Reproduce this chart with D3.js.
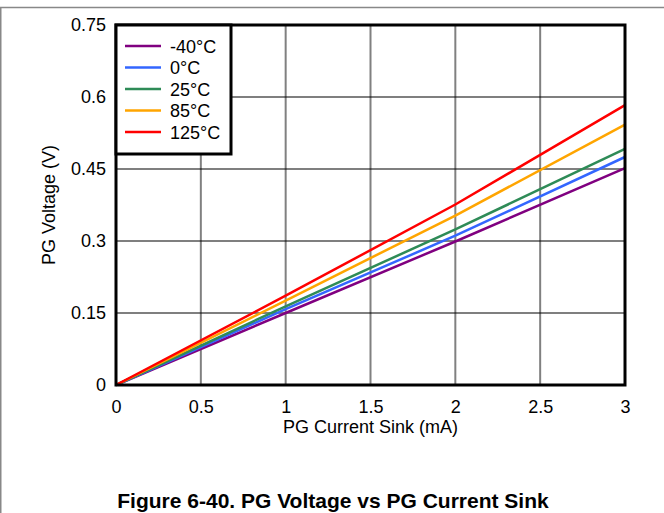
<!DOCTYPE html>
<html>
<head>
<meta charset="utf-8">
<title>PG Voltage vs PG Current Sink</title>
<script src="https://d3js.org/d3.v7.min.js"></script>
<style>
body { margin: 0; background: #fff; }
svg text { font-family: "Liberation Sans", Arial, sans-serif; fill: #000; }
</style>
</head>
<body>
<div class="chart"></div>
<script>
// values (mA -> V)
var current = [0, 1, 2, 3];
var vNeg40 = [0, 0.150, 0.299, 0.452];
var v0 = [0, 0.158, 0.311, 0.475];
var v25 = [0, 0.164, 0.324, 0.492];
var v85 = [0, 0.176, 0.353, 0.5425];
var v125 = [0, 0.186, 0.376, 0.583];
var seriesNames = ["-40°C", "0°C", "25°C", "85°C", "125°C"];
var seriesColors = ["#800080", "#3366ff", "#2e8b57", "#ffa500", "#ff0000"];
var xTicks = [0, 0.5, 1, 1.5, 2, 2.5, 3];
var yTicks = [0, 0.15, 0.3, 0.45, 0.6, 0.75];

var allSeries = [vNeg40, v0, v25, v85, v125];

var W = 664, H = 513;
var margin = {top: 25, right: 39, bottom: 128, left: 116};
var width = W - margin.left - margin.right,
    height = H - margin.top - margin.bottom;

var svg = d3.select(".chart").append("svg")
    .attr("width", W)
    .attr("height", H);

// page border lines
svg.append("line").attr("x1", 0).attr("x2", W).attr("y1", 7.5).attr("y2", 7.5)
    .attr("stroke", "#888").attr("stroke-width", 1.5);
svg.append("line").attr("x1", 0.75).attr("x2", 0.75).attr("y1", 7).attr("y2", H)
    .attr("stroke", "#888").attr("stroke-width", 1.5);

var g = svg.append("g").attr("transform", "translate(" + margin.left + "," + margin.top + ")");

var x = d3.scaleLinear().domain([0, 3]).range([0, width]);
var y = d3.scaleLinear().domain([0, 0.75]).range([height, 0]);

// grid
g.selectAll(".vgrid").data(xTicks.slice(1, -1)).enter().append("line")
    .attr("x1", d => x(d)).attr("x2", d => x(d))
    .attr("y1", 0).attr("y2", height)
    .attr("stroke", "#808080").attr("stroke-width", 2);
g.selectAll(".hgrid").data(yTicks.slice(1, -1)).enter().append("line")
    .attr("x1", 0).attr("x2", width)
    .attr("y1", d => y(d)).attr("y2", d => y(d))
    .attr("stroke", "#000").attr("stroke-width", 1.2);

// axes (labels only)
var xAxis = g.append("g")
    .attr("transform", "translate(0," + height + ")")
    .call(d3.axisBottom(x).tickValues(xTicks).tickSize(0).tickPadding(15).tickFormat(d3.format("")));
var yAxis = g.append("g")
    .call(d3.axisLeft(y).tickValues(yTicks).tickSize(0).tickPadding(10).tickFormat(d => d === 0 ? "0" : String(d)));
[xAxis, yAxis].forEach(function(a) {
  a.select(".domain").remove();
  a.attr("font-family", null).attr("font-size", null);
  a.selectAll("text").style("font-size", "18px");
});

// series lines
var line = d3.line().x((d, i) => x(current[i])).y(d => y(d));
g.selectAll(".series").data(allSeries).enter().append("path")
    .attr("d", line)
    .attr("fill", "none")
    .attr("stroke", (d, i) => seriesColors[i])
    .attr("stroke-width", 2.5);

// frame
g.append("rect").attr("width", width).attr("height", height)
    .attr("fill", "none").attr("stroke", "#000").attr("stroke-width", 3);

// legend
var leg = g.append("g");
leg.append("rect").attr("x", 0).attr("y", 0).attr("width", 115).attr("height", 129)
    .attr("fill", "#fff").attr("stroke", "#000").attr("stroke-width", 3);
seriesNames.forEach(function(name, i) {
  var yy = 21 + i * 21.5;
  leg.append("line").attr("x1", 9).attr("x2", 45).attr("y1", yy).attr("y2", yy)
      .attr("stroke", seriesColors[i]).attr("stroke-width", 2.5);
  leg.append("text").attr("x", 54).attr("y", yy + 6.5).style("font-size", "18px").text(name);
});

// axis titles
svg.append("text")
    .attr("x", margin.left + width / 2).attr("y", 433)
    .attr("text-anchor", "middle").style("font-size", "18px")
    .text("PG Current Sink (mA)");
svg.append("text")
    .attr("transform", "translate(55," + (margin.top + height / 2) + ") rotate(-90)")
    .attr("text-anchor", "middle").style("font-size", "18px")
    .text("PG Voltage (V)");

// caption
svg.append("text")
    .attr("x", 333).attr("y", 508)
    .attr("text-anchor", "middle").style("font-size", "21px").style("font-weight", "bold")
    .text("Figure 6-40. PG Voltage vs PG Current Sink");
</script>
</body>
</html>
